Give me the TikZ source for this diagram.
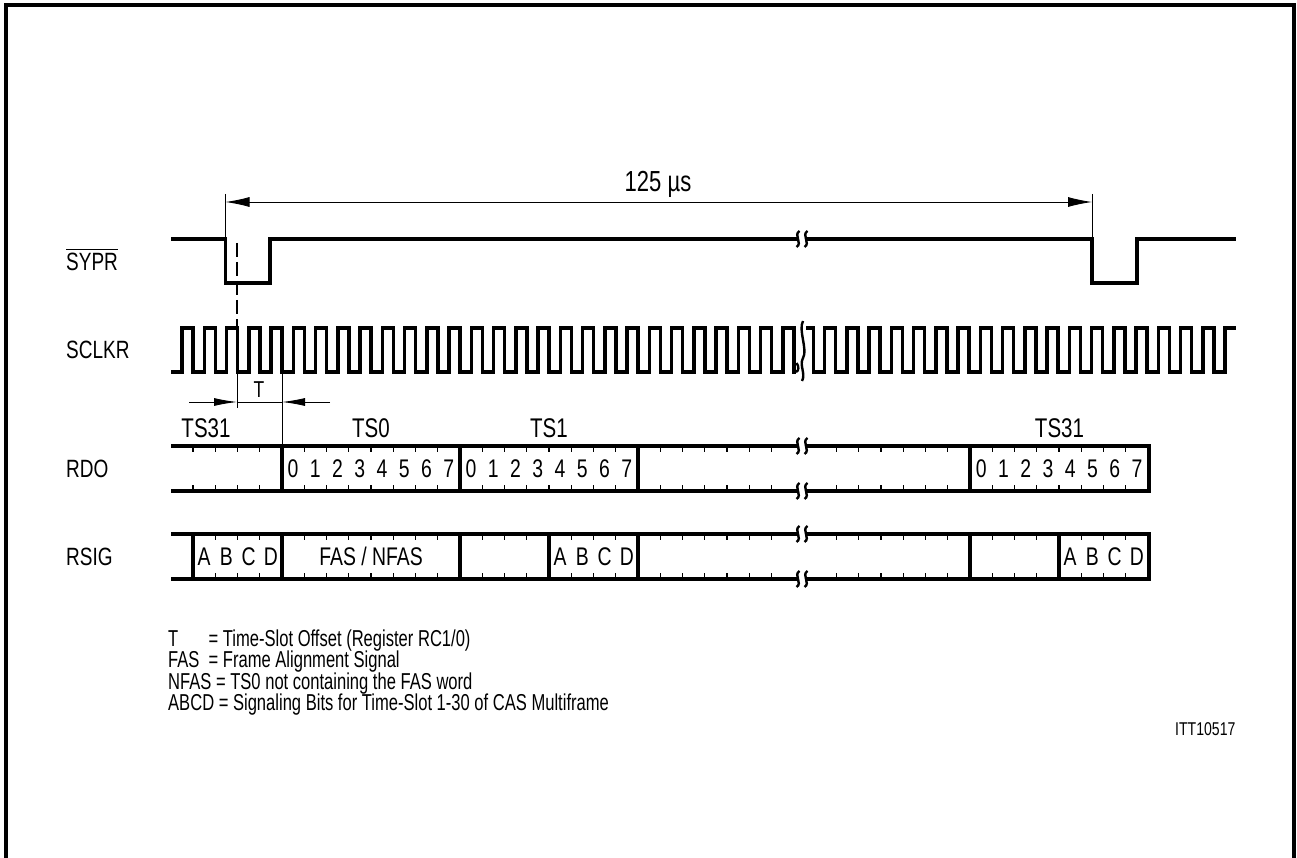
\documentclass[tikz,border=0pt]{standalone}
\usepackage{fontspec}
\setmainfont{Liberation Sans}[FakeStretch=0.76]
\newfontfamily\legfont{Liberation Sans}[FakeStretch=0.72]
\usetikzlibrary{arrows.meta}
\begin{document}
\begin{tikzpicture}[x=1pt,y=-1pt,
  sig/.style={line width=3.5pt,line join=miter},
  sepline/.style={line width=3.5pt},
  tickline/.style={line width=1.4pt},
  dimline/.style={line width=0.9pt},
  brk/.style={line width=2.4pt},
  rowlbl/.style={inner sep=0pt,anchor=base west,font=\fontsize{25}{27}\selectfont},
  tslbl/.style={inner sep=0pt,anchor=base,font=\fontsize{27}{29}\selectfont},
  bitlbl/.style={inner sep=0pt,anchor=base,font=\fontsize{25.5}{27}\selectfont},
  leglbl/.style={inner sep=0pt,anchor=base west,font=\legfont\fontsize{23}{25}\selectfont}]
\useasboundingbox (0,0) rectangle (1297,858);
% frame
\draw[line width=4pt] (6,860) -- (6,5.5) -- (1294,5.5) -- (1294,860);

% row labels
\node[rowlbl] (lsypr) at (66,270.5) {SYPR};
\draw[line width=1.3pt] ([yshift=3.5pt]lsypr.north west) -- ([yshift=3.5pt]lsypr.north east);
\node[rowlbl] (lsclkr) at (66,358.5) {SCLKR};
\node[rowlbl] (lrdo) at (66,477.5) {RDO};
\node[rowlbl] (lrsig) at (66,565.5) {RSIG};

% SYPR
\draw[sig] (171,239) -- (225.5,239) -- (225.5,283) -- (270,283) -- (270,239) -- (797,239);
\draw[sig] (807,239) -- (1092,239) -- (1092,283) -- (1137,283) -- (1137,239) -- (1236,239);
\newcommand\brkmark[2]{\draw[brk] ({#1+1.5},{#2-8}) .. controls ({#1-5},{#2-4}) and ({#1+5},{#2+4}) .. ({#1-1.5},{#2+8});}
\brkmark{798}{239}\brkmark{806}{239}

% 125 us dimension
\coordinate (dl) at (225.5,194);
\coordinate (dr) at (1092,194);
\draw[dimline] (dl) -- (225.5,239);
\draw[dimline] (dr) -- (1092,239);
\coordinate (al) at (225.5,202);
\coordinate (ar) at (1092,202);
\draw[dimline,{Latex[length=24pt,width=10pt]}-{Latex[length=24pt,width=10pt]}] (al) -- (ar);
\node[tslbl,font=\fontsize{29}{31}\selectfont] (t125) at (658,191.5) {125 µs};

% dashed line
\draw[line width=1.2pt,dash pattern=on 14pt off 5pt] (237,243) -- (237,330);

% SCLKR
\draw[sig] (171,372) foreach \k in {0,...,27} { -- ({182+22.25*\k},372) -- ++(0,-44) -- ++(11.125,0) -- ++(0,44) } -- (796,372);
\draw[brk] (796,372) .. controls (799,371) and (799,366) .. (796.5,363);
\draw[brk] (803,321) .. controls (798,330) and (808,350) .. (803,358) .. controls (799,365) and (806,374) .. (802,381);
\draw[sig] (806,328) -- (813.4,328) -- (813.4,372) foreach \k in {0,...,17} { -- ({824.5+22.25*\k},372) -- ++(0,-44) -- ++(11.125,0) -- ++(0,44) } -- (1225,372) -- (1225,328) -- (1236,328);

% T dimension
\coordinate (ta) at (237,372);
\coordinate (tb) at (282,372);
\draw[dimline] (ta) -- (237,408);
\draw[dimline] (tb) -- (282,446);
\coordinate (tal) at (189,402);
\coordinate (tar) at (330,402);
\draw[dimline,-{Latex[length=23pt,width=8pt]}] (tal) -- (237,402);
\draw[dimline] (237,402) -- (282,402);
\draw[dimline,-{Latex[length=23pt,width=8pt]}] (tar) -- (282,402);
\node[tslbl,font=\fontsize{23}{25}\selectfont] (tlbl) at (259,397.5) {T};

% TS labels
\node[tslbl] (ts31a) at (206,437) {TS31};
\node[tslbl] (ts0) at (371,437) {TS0};
\node[tslbl] (ts1) at (549,437) {TS1};
\node[tslbl] (ts31b) at (1059.5,437) {TS31};

% RDO row
\draw[sig] (171,446) -- (797,446);
\draw[sig] (171,491) -- (797,491);
\draw[sig] (807,446) -- (1149,446) -- (1149,491) -- (807,491);
\brkmark{798}{446}\brkmark{806}{446}
\brkmark{798}{491}\brkmark{806}{491}
\foreach \x in {282,460,638,970} \draw[sepline] (\x,446) -- (\x,491);
\foreach \x in {193,215.25,237.5,259.75,
  304.25,326.5,348.75,371,393.25,415.5,437.75,
  482.25,504.5,526.75,549,571.25,593.5,615.75,
  660.25,682.5,704.75,727,749.25,771.5,
  836.5,858.75,881,903.25,925.5,947.75,
  992.25,1014.5,1036.75,1059,1081.25,1103.5,1125.75}
  {\draw[tickline] (\x,446) -- (\x,452); \draw[tickline] (\x,491) -- (\x,485);}
\foreach \s/\nm in {282/a,460/b,970/c}
  \foreach \d in {0,...,7}
    \node[bitlbl] (rdo\nm\d) at ({\s+11.125+22.25*\d},477.5) {\d};

% RSIG row
\draw[sig] (171,534) -- (797,534);
\draw[sig] (171,579) -- (797,579);
\draw[sig] (807,534) -- (1149,534) -- (1149,579) -- (807,579);
\brkmark{798}{534}\brkmark{806}{534}
\brkmark{798}{579}\brkmark{806}{579}
\foreach \x in {193,282,460,549,638,970,1059} \draw[sepline] (\x,534) -- (\x,579);
\foreach \x in {215.25,237.5,259.75,
  304.25,326.5,348.75,371,393.25,415.5,437.75,
  482.25,504.5,526.75,571.25,593.5,615.75,
  660.25,682.5,704.75,727,749.25,771.5,
  836.5,858.75,881,903.25,925.5,947.75,
  992.25,1014.5,1036.75,1081.25,1103.5,1125.75}
  {\draw[tickline] (\x,534) -- (\x,540); \draw[tickline] (\x,579) -- (\x,573);}
\foreach \s/\nm in {193/a,549/b,1059/c}
  \foreach \l [count=\i from 0] in {A,B,C,D}
    \node[bitlbl] (rs\nm\i) at ({\s+11.125+22.25*\i},565.5) {\l};
\node[bitlbl] (fas) at (371,565.5) {FAS / NFAS};

% legend
\node[leglbl] (leg1) at (168,646) {\makebox[0pt][l]{T}\phantom{FAS}\ \ = Time-Slot Offset (Register RC1/0)};
\node[leglbl] (leg2) at (168,667.5) {FAS\ \ = Frame Alignment Signal};
\node[leglbl] (leg3) at (168,689) {NFAS = TS0 not containing the FAS word};
\node[leglbl] (leg4) at (168,710.5) {ABCD = Signaling Bits for Time-Slot 1-30 of CAS Multiframe};
\node[inner sep=0pt,anchor=base west,font=\fontsize{18.5}{20}\selectfont] (itt) at (1175,735) {ITT10517};
\end{tikzpicture}
\end{document}
